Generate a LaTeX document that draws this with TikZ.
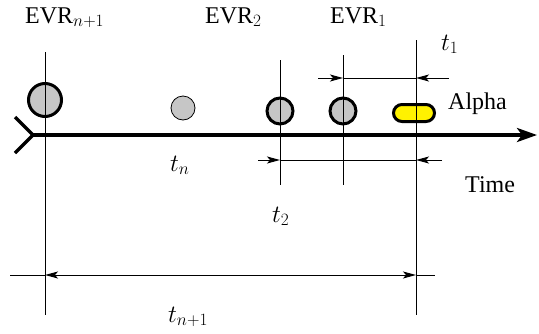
\documentclass[tikz,border=0pt]{standalone}
\usepackage{fontspec}
\setmainfont{Liberation Serif}
\usetikzlibrary{arrows.meta}
\begin{document}
\begin{tikzpicture}[x=1pt,y=-1pt,
  font=\fontsize{24}{28}\selectfont,
  vline/.style={line width=1pt},
  dim/.style={line width=1pt},
  dimtip/.style={-{Stealth[length=13pt,width=7pt,inset=3pt]}},
  axisline/.style={line width=3.3pt},
  evr/.style={circle,draw,line width=3pt,fill=gray!45,inner sep=0pt},
  lbl/.style={anchor=base west,inner sep=0pt}]
\useasboundingbox (0,0) rectangle (539,333);
% vertical lines
\coordinate (v1t) at (45,52);  \coordinate (v1b) at (45,315);
\coordinate (v2t) at (280,60); \coordinate (v2b) at (280,185);
\coordinate (v3t) at (343,55); \coordinate (v3b) at (343,185);
\coordinate (v4t) at (416,40); \coordinate (v4b) at (416,315);
\draw[vline] (v1t) -- (v1b);
\draw[vline] (v2t) -- (v2b);
\draw[vline] (v3t) -- (v3b);
\draw[vline] (v4t) -- (v4b);
% axis
\coordinate (ax0) at (33,135); \coordinate (ax1) at (537,135);
\coordinate (ch1) at (15,117); \coordinate (ch2) at (15,153);
\draw[axisline,-{Stealth[length=20pt,width=14pt,inset=5pt]}] (ax0) -- (ax1);
\draw[axisline] (ch1) -- (ax0) -- (ch2);
% events
\node[evr,minimum size=33pt] (e1) at (45,100) {};
\node[circle,draw,line width=0.8pt,fill=gray!45,minimum size=24pt,inner sep=0pt] (en) at (183,108) {};
\node[evr,minimum size=26pt] (e2) at (280,111) {};
\node[evr,minimum size=26pt] (e3) at (343,111) {};
\node[draw,line width=3pt,fill=yellow,rounded corners=8.5pt,minimum width=41pt,minimum height=17pt,inner sep=0pt] (al) at (414,113) {};
\draw[vline] (e1.north) -- (e1.south);
\draw[vline] (e2.north) -- (e2.south);
\draw[vline] (e3.north) -- (e3.south);
\draw[vline] (al.north -| v4t) -- (al.south -| v4t);
% t1 dimension
\coordinate (a1) at (318,78); \coordinate (a2) at (343,78);
\coordinate (a3) at (416,78); \coordinate (a4) at (449,78);
\draw[dim,dimtip] (a1) -- (a2);
\draw[dim] (a2) -- (a3);
\draw[dim,dimtip] (a4) -- (a3);
% t2 dimension
\coordinate (b1) at (258,160); \coordinate (b2) at (280,160);
\coordinate (b3) at (416,160); \coordinate (b4) at (442,160);
\draw[dim,dimtip] (b1) -- (b2);
\draw[dim] (b2) -- (b3);
\draw[dim,dimtip] (b4) -- (b3);
% tn+1 dimension
\coordinate (c1) at (10,275); \coordinate (c2) at (45,275);
\coordinate (c3) at (416,275); \coordinate (c4) at (435,275);
\draw[dim] (c1) -- (c2);
\draw[dim,{Stealth[length=13pt,width=7pt,inset=3pt]}-{Stealth[length=13pt,width=7pt,inset=3pt]}] (c2) -- (c3);
\draw[dim] (c3) -- (c4);
% labels
\node[lbl] (Ln1) at (25,23) {EVR$_{n+1}$};
\node[lbl] (L2) at (205,23) {EVR$_2$};
\node[lbl] (L1) at (330,23) {EVR$_1$};
\node[lbl] (T1) at (441,50) {$t_1$};
\node[lbl] (Alpha) at (448,109) {Alpha};
\node[lbl] (Tn) at (170,171) {$t_n$};
\node[lbl] (Time) at (465,192) {Time};
\node[lbl] (T2) at (272,222) {$t_2$};
\node[lbl] (Tn1) at (168,322) {$t_{n+1}$};
\end{tikzpicture}
\end{document}
